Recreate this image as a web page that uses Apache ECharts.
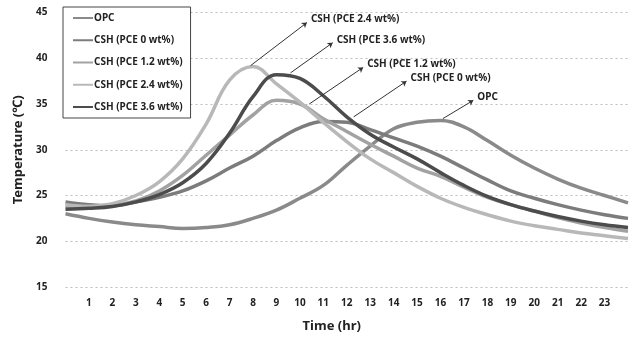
<!DOCTYPE html>
<html>
<head>
<meta charset="utf-8">
<script src="https://cdn.jsdelivr.net/npm/echarts@6/dist/echarts.min.js"></script>
<style>
  html, body { margin: 0; padding: 0; background: #fff; }
  #chart { width: 633px; height: 338px; }
</style>
</head>
<body>
<div id="chart"></div>
<script>
/* ── Data (hourly) ─────────────────────────────────── */
const hours = [0, 1, 2, 3, 4, 5, 6, 7, 8, 9, 10, 11, 12, 13, 14, 15, 16, 17, 18, 19, 20, 21, 22, 23, 24];

const opc   = [23.0, 22.5, 22.1, 21.8, 21.6, 21.4, 21.5, 21.8, 22.5, 23.4, 24.7, 26.1, 28.3, 30.4, 32.3, 33.0, 33.2, 32.5, 31.0, 29.4, 28.0, 26.8, 25.8, 25.0, 24.2];
const pce0  = [24.3, 24.0, 23.9, 24.3, 24.8, 25.5, 26.6, 28.0, 29.3, 31.0, 32.4, 33.1, 33.0, 32.2, 31.3, 30.4, 29.3, 28.0, 26.7, 25.5, 24.7, 24.0, 23.4, 22.9, 22.5];
const pce12 = [23.8, 23.8, 23.9, 24.4, 25.5, 27.2, 29.4, 31.6, 33.8, 35.4, 35.0, 33.4, 32.0, 30.6, 29.3, 28.0, 27.1, 25.9, 24.8, 24.0, 23.3, 22.6, 22.0, 21.5, 21.1];
const pce24 = [24.0, 23.8, 24.1, 25.0, 26.5, 29.0, 32.8, 37.6, 39.1, 37.2, 35.2, 33.0, 30.9, 29.0, 27.5, 26.0, 24.7, 23.7, 22.9, 22.2, 21.7, 21.3, 20.9, 20.6, 20.3];
const pce36 = [23.5, 23.6, 23.8, 24.3, 25.1, 26.4, 28.5, 31.8, 35.8, 38.2, 37.8, 35.9, 33.6, 31.7, 30.3, 29.0, 27.5, 26.1, 24.9, 24.0, 23.3, 22.7, 22.2, 21.8, 21.5];

const seriesNames = ["OPC", "CSH (PCE 0 wt%)", "CSH (PCE 1.2 wt%)", "CSH (PCE 2.4 wt%)", "CSH (PCE 3.6 wt%)"];
const seriesData = [opc, pce0, pce12, pce24, pce36];
const seriesColors = ["#8a8a8a", "#7c7c7c", "#a2a2a2", "#b8b8b8", "#4c4c4c"];

/* callout arrows: [from hr, from °C, to hr, to °C] per series */
const callouts = [
  [16.1, 33.4, 17.4, 35.4],
  [12.3, 33.6, 14.55, 37.5],
  [10.4, 35.0, 12.7, 39.0],
  [7.9, 39.2, 10.3, 43.9],
  [9.6, 38.4, 11.4, 41.7]
];

const yTicks = [15, 20, 25, 30, 35, 40, 45];

/* ── Chart ─────────────────────────────────────────── */
const chart = echarts.init(document.getElementById("chart"));
const FONT = "Noto Sans";
const labelFont = { color: "#222", fontFamily: FONT, fontSize: 10, fontWeight: "bold" };

const series = seriesNames.map((name, i) => ({
  name,
  type: "line",
  data: hours.map((h, k) => [h, seriesData[i][k]]),
  smooth: 0.4,
  symbol: "none",
  lineStyle: { color: seriesColors[i], width: 3.5 },
  itemStyle: { color: seriesColors[i] },
  z: i === 4 ? 3 : 2,
  markLine: {
    silent: true,
    symbol: ["none", "arrow"],
    symbolSize: 5,
    lineStyle: { color: "#333", width: 1, type: "solid" },
    itemStyle: { color: "#333" },
    label: { show: false },
    data: [[
      { coord: [callouts[i][0], callouts[i][1]] },
      { coord: [callouts[i][2], callouts[i][3]] }
    ]]
  },
  markPoint: {
    silent: true,
    symbol: "circle",
    symbolSize: 0,
    label: { show: true, position: "right", distance: 4, offset: [0, -3], formatter: name, ...labelFont },
    data: [{ coord: [callouts[i][2], callouts[i][3]] }]
  }
}));

chart.setOption({
  animation: false,
  backgroundColor: "#fff",
  textStyle: { fontFamily: FONT },
  grid: { left: 65.5, right: 5, top: 12.5, bottom: 47 },
  legend: {
    orient: "vertical",
    left: 63,
    top: 7,
    padding: [4, 8, 4, 10],
    icon: "rect",
    itemWidth: 20,
    itemHeight: 2,
    itemGap: 8.25,
    borderColor: "#444",
    borderWidth: 1,
    backgroundColor: "#fff",
    data: seriesNames,
    textStyle: { ...labelFont, lineHeight: 14, padding: [0, 0, 0, -4] }
  },
  xAxis: {
    type: "value",
    min: 0,
    max: 24,
    interval: 1,
    name: "Time (hr)",
    nameLocation: "middle",
    nameGap: 33,
    nameTextStyle: { ...labelFont, fontSize: 13, padding: [0, 30, 0, 0] },
    axisLine: { show: false },
    axisTick: { show: false },
    splitLine: { show: false },
    axisLabel: {
      ...labelFont,
      margin: 11,
      formatter: (v) => (v === 0 || v === 24 ? "" : String(v))
    }
  },
  yAxis: {
    type: "value",
    min: yTicks[0],
    max: yTicks[yTicks.length - 1],
    interval: 5,
    name: "Temperature (℃)",
    nameLocation: "middle",
    nameGap: 33,
    nameTextStyle: { ...labelFont, fontSize: 13 },
    axisLine: { show: false },
    axisTick: { show: false },
    splitLine: { lineStyle: { color: "#bdbdbd", type: [2, 3], width: 1 } },
    axisLabel: { ...labelFont, margin: 18 }
  },
  series
});
</script>
</body>
</html>
